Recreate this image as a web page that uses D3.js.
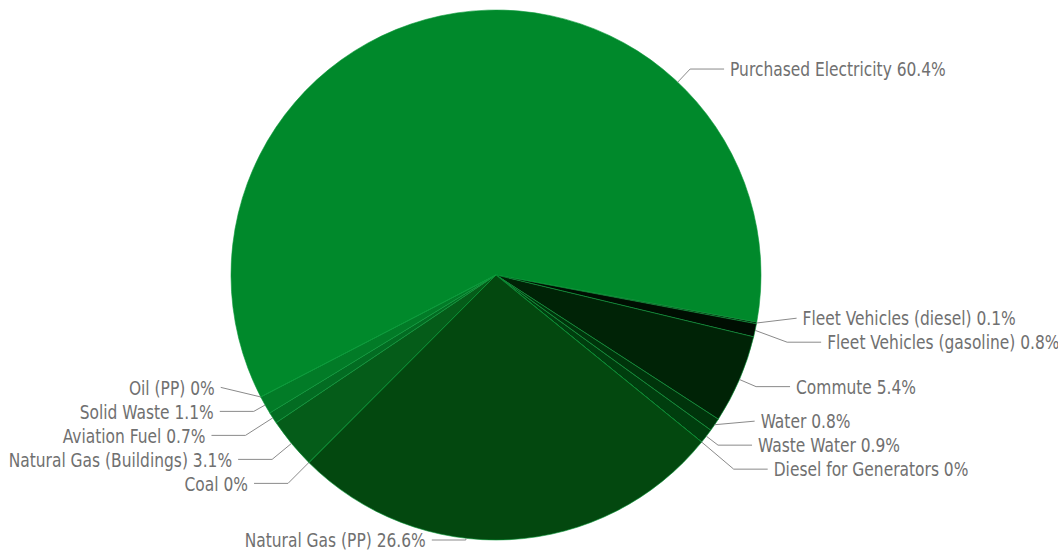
<!DOCTYPE html>
<html>

<head>
    <meta charset="UTF-8">
    <title>Emissions by Source</title>
    <script src="https://d3js.org/d3.v7.min.js"></script>
    <style>
        body { margin: 0; background: #fff; }
    </style>
</head>

<body>

    <script>
        // slices in drawing order (clockwise, starting with Purchased Electricity)
        const sources = ["Purchased Electricity", "Fleet Vehicles (diesel)", "Fleet Vehicles (gasoline)", "Commute",
            "Water", "Waste Water", "Diesel for Generators", "Natural Gas (PP)", "Coal",
            "Natural Gas (Buildings)", "Aviation Fuel", "Solid Waste", "Oil (PP)"];
        const shares = [60.4, 0.1, 0.8, 5.4, 0.8, 0.9, 0, 26.6, 0, 3.1, 0.7, 1.1, 0];
        const colors = ["#00892b", "#001f07", "#000e02", "#002306", "#00340b", "#003e0e", "#004510",
            "#03480f", "#045313", "#055c19", "#036c22", "#027b27", "#00892b"];

        // the two big slices have their label hooked to the side of the chart they are drawn on
        const labelAngleOverride = { "Purchased Electricity": 43.3, "Natural Gas (PP)": 186.5 };

        const width = 1058, height = 552;
        const cx = 496, cy = 275, radius = 265;
        const startDeg = -117.4;
        const rad = Math.PI / 180;

        const data = sources.map(function (s, i) { return { name: s, value: shares[i], color: colors[i] }; });

        const svg = d3.select("body").append("svg")
            .attr("width", width)
            .attr("height", height);

        const pie = d3.pie()
            .sort(null)
            .value(function (d) { return d.value; })
            .startAngle(startDeg * rad)
            .endAngle((startDeg + 360) * rad);

        const arcs = pie(data);
        const arc = d3.arc().innerRadius(0).outerRadius(radius);

        const g = svg.append("g").attr("transform", "translate(" + cx + "," + cy + ")");

        g.selectAll("path.slice")
            .data(arcs)
            .enter().append("path")
            .attr("class", "slice")
            .attr("d", arc)
            .attr("fill", function (d) { return d.data.color; })
            .attr("stroke", "#0b9a3a")
            .attr("stroke-width", 0.6)
            .attr("stroke-linejoin", "round");

        // label layout
        const labels = arcs.map(function (d) {
            var a = labelAngleOverride[d.data.name] !== undefined
                ? labelAngleOverride[d.data.name] * rad
                : (d.startAngle + d.endAngle) / 2;
            var s = Math.sin(a), c = -Math.cos(a);
            return {
                d: d, a: a, dx: s, dy: c,
                right: s >= 0,
                tx: cx + radius * s, ty: cy + radius * c,
                target: cy + (radius + 18) * c
            };
        });

        // spread overlapping labels around the mean of their natural positions
        function distribute(list, gap, minY, maxY) {
            list.sort(function (a, b) { return a.target - b.target; });
            var groups = list.map(function (l) { return { items: [l], pos: Math.min(maxY, Math.max(minY, l.target)) }; });
            var moved = true;
            while (moved) {
                moved = false;
                for (var i = 1; i < groups.length; i++) {
                    var p = groups[i - 1], q = groups[i];
                    var pEnd = p.pos + (p.items.length - 1) * gap;
                    if (pEnd + gap > q.pos) {
                        var items = p.items.concat(q.items);
                        var mean = d3.mean(items, function (l) { return l.target; });
                        var pos = mean - (items.length - 1) * gap / 2;
                        pos = Math.max(minY, Math.min(maxY - (items.length - 1) * gap, pos));
                        groups.splice(i - 1, 2, { items: items, pos: pos });
                        moved = true;
                        break;
                    }
                }
            }
            groups.forEach(function (gr) {
                gr.items.forEach(function (l, k) { l.y = gr.pos + k * gap; });
            });
        }

        distribute(labels.filter(function (l) { return l.right; }), 24, 14, 540);
        distribute(labels.filter(function (l) { return !l.right; }), 24, 14, 540);

        labels.forEach(function (l) {
            var sgn = l.right ? 1 : -1;
            var pts = [[l.tx, l.ty]];
            var dyL = l.y - l.ty;
            if (dyL * l.dy > 0 && Math.abs(l.dy) > 0.05) {
                var t = dyL / l.dy;
                var bx = l.tx + l.dx * t;
                if (Math.abs(bx - l.tx) > 32) bx = l.tx + sgn * 32;
                pts.push([bx, l.y]);
                l.ex = bx + sgn * 34;
            } else {
                l.ex = l.tx + sgn * 40;
            }
            pts.push([l.ex, l.y]);
            l.pts = pts;
        });

        svg.append("g").selectAll("path")
            .data(labels)
            .enter().append("path")
            .attr("d", function (l) { return d3.line()(l.pts); })
            .attr("fill", "none")
            .attr("stroke", "#8a8a8a")
            .attr("stroke-width", 1);

        // condensed look: squeeze the text horizontally
        svg.append("g").selectAll("text")
            .data(labels)
            .enter().append("text")
            .attr("transform", function (l) {
                return "translate(" + (l.ex + (l.right ? 6 : -6)) + "," + l.y + ") scale(0.86,1)";
            })
            .attr("dy", "0.36em")
            .attr("text-anchor", function (l) { return l.right ? "start" : "end"; })
            .attr("fill", "#707070")
            .style("font-family", "'DejaVu Sans Condensed', 'Liberation Sans', sans-serif")
            .style("font-size", "20px")
            .text(function (l) { return l.d.data.name + " " + l.d.data.value + "%"; });
    </script>
</body>

</html>
